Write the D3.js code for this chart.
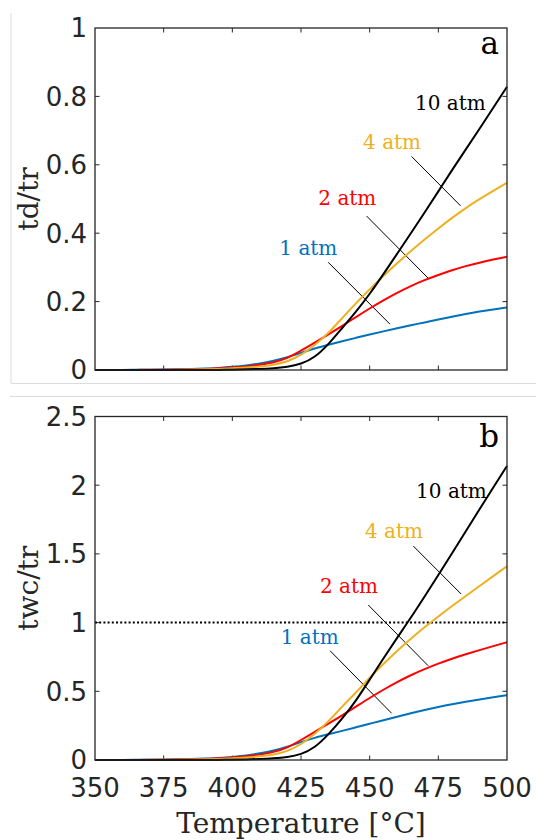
<!doctype html>
<html lang="en">
<head>
<meta charset="utf-8">
<title>td/tr and twc/tr vs temperature</title>
<script src="https://cdn.jsdelivr.net/npm/d3@7/dist/d3.min.js"></script>
<style>
  body { margin: 0; background: #fff; }
  svg text { fill: #262626; }
</style>
</head>
<body>
<svg id="chart" width="536" height="840"></svg>
<script>
// temperatures [°C]
var temps = [350,355,360,365,370,375,380,385,390,395,400,405,410,415,420,425,
             430,435,440,445,450,455,460,465,470,475,480,485,490,495,500];

// panel a : td/tr
var td1atm  = [0,0,0,0.001,0.001,0.001,0.002,0.003,0.004,0.006,0.009,0.013,0.019,0.027,0.037,0.050,
               0.063,0.074,0.084,0.094,0.104,0.113,0.122,0.131,0.139,0.148,0.156,0.164,0.171,0.177,0.183];
var td2atm  = [0,0,0,0,0.001,0.001,0.001,0.002,0.003,0.005,0.007,0.010,0.015,0.022,0.034,0.056,
               0.080,0.104,0.129,0.155,0.180,0.204,0.226,0.246,0.263,0.278,0.292,0.304,0.314,0.323,0.331];
var td4atm  = [0,0,0,0,0,0,0.001,0.001,0.002,0.003,0.005,0.007,0.010,0.015,0.024,0.043,
               0.072,0.108,0.152,0.195,0.236,0.275,0.312,0.348,0.382,0.414,0.445,0.474,0.500,0.524,0.547];
var td10atm = [0,0,0,0,0,0,0,0,0,0,0.001,0.002,0.003,0.005,0.009,0.017,
               0.036,0.075,0.123,0.170,0.222,0.280,0.340,0.400,0.460,0.522,0.585,0.645,0.705,0.767,0.828];

// panel b : twc/tr
var twc1atm  = [0,0,0.001,0.001,0.002,0.003,0.005,0.007,0.010,0.015,0.022,0.033,0.048,0.067,0.095,0.131,
                0.162,0.187,0.212,0.238,0.264,0.290,0.315,0.340,0.364,0.386,0.406,0.424,0.441,0.457,0.472];
var twc2atm  = [0,0,0,0.001,0.001,0.002,0.003,0.005,0.008,0.012,0.018,0.026,0.038,0.057,0.088,0.145,
                0.205,0.265,0.325,0.388,0.452,0.512,0.568,0.618,0.662,0.702,0.738,0.770,0.800,0.829,0.857];
var twc4atm  = [0,0,0,0,0.001,0.001,0.002,0.003,0.005,0.008,0.012,0.018,0.026,0.038,0.062,0.112,
                0.188,0.280,0.390,0.490,0.600,0.700,0.795,0.884,0.966,1.045,1.121,1.194,1.266,1.338,1.410];
var twc10atm = [0,0,0,0,0,0,0,0,0,0,0.002,0.004,0.007,0.012,0.020,0.040,
                0.088,0.185,0.300,0.430,0.585,0.740,0.890,1.035,1.190,1.345,1.505,1.665,1.825,1.983,2.140];

var pressures = ["1 atm", "2 atm", "4 atm", "10 atm"];
var xTicks  = [350, 375, 400, 425, 450, 475, 500];
var yTicksA = [0, 0.2, 0.4, 0.6, 0.8, 1];
var yTicksB = [0, 0.5, 1, 1.5, 2, 2.5];

// label anchors (temperature, value) and leader lines, per pressure
var labelsA  = [[417.1,0.336],[431.3,0.482],[447.6,0.646],[466.5,0.760]];
var leadersA = [[434.9,0.315,457.4,0.134],[448.9,0.450,471.6,0.266],[465.3,0.624,483.1,0.480],null];
var labelsB  = [[417.6,0.844],[431.9,1.215],[448.3,1.616],[466.9,1.907]];
var leadersB = [[435.6,0.795,458.0,0.340],[449.5,1.128,471.3,0.686],[465.9,1.557,483.3,1.208],null];

var colors = ["#0072BD", "#FF0000", "#EDB120", "#000000"];

var svg = d3.select("#chart");
var left = 95, right = 507;
var serif = "'DejaVu Serif', serif";
var sans = "'DejaVu Sans', sans-serif";

// faint frame from the figure composite
svg.append("path")
    .attr("d", "M11,13V383.5H536M10,396.5H536")
    .attr("fill", "none").attr("stroke", "#dcdcdc").attr("stroke-width", 1);

var x = d3.scaleLinear().domain([350, 500]).range([left, right]);

var panels = [
  { top: 28, bottom: 370, ymax: 1, ticks: yTicksA, series: [td1atm, td2atm, td4atm, td10atm],
    ylabel: "td/tr", tag: "a", tagY: 53.5, labels: labelsA, leaders: leadersA, dotted: false },
  { top: 416.5, bottom: 760, ymax: 2.5, ticks: yTicksB, series: [twc1atm, twc2atm, twc4atm, twc10atm],
    ylabel: "twc/tr", tag: "b", tagY: 447, labels: labelsB, leaders: leadersB, dotted: true }
];

panels.forEach(function(p, pi) {
  var y = d3.scaleLinear().domain([0, p.ymax]).range([p.bottom, p.top]);
  var g = svg.append("g");

  // y tick labels
  g.selectAll(".ytl").data(p.ticks).enter().append("text")
      .attr("x", left - 8).attr("y", function(d) { return y(d); })
      .attr("dy", "0.36em")
      .attr("text-anchor", "end")
      .style("font-family", sans).style("font-size", "26px")
      .text(function(d) { return String(d); });

  // ticks, inward, on all four sides
  var tl = 4.5;
  var tk = g.append("g").attr("stroke", "#262626").attr("stroke-width", 1);
  xTicks.slice(1, -1).forEach(function(t) {
    tk.append("line").attr("x1", x(t)).attr("x2", x(t)).attr("y1", p.bottom).attr("y2", p.bottom - tl);
    tk.append("line").attr("x1", x(t)).attr("x2", x(t)).attr("y1", p.top).attr("y2", p.top + tl);
  });
  p.ticks.slice(1, -1).forEach(function(v) {
    tk.append("line").attr("x1", left).attr("x2", left + tl).attr("y1", y(v)).attr("y2", y(v));
    tk.append("line").attr("x1", right).attr("x2", right - tl).attr("y1", y(v)).attr("y2", y(v));
  });

  // dotted reference line at 1
  if (p.dotted) {
    g.append("line")
        .attr("x1", left).attr("x2", right).attr("y1", y(1)).attr("y2", y(1))
        .attr("stroke", "#000").attr("stroke-width", 2).attr("stroke-dasharray", "2,2.2");
  }

  // leader lines
  p.leaders.forEach(function(l) {
    if (!l) return;
    g.append("line")
        .attr("x1", x(l[0])).attr("y1", y(l[1])).attr("x2", x(l[2])).attr("y2", y(l[3]))
        .attr("stroke", "#000").attr("stroke-width", 1);
  });

  // curves
  var line = d3.line()
      .x(function(d, i) { return x(temps[i]); })
      .y(function(d) { return y(d); })
      .curve(d3.curveBasis);
  p.series.forEach(function(s, i) {
    g.append("path").datum(s)
        .attr("d", line)
        .attr("fill", "none")
        .attr("stroke", colors[i])
        .attr("stroke-width", 2)
        .attr("stroke-linejoin", "round");
  });

  // pressure labels
  p.labels.forEach(function(l, i) {
    g.append("text")
        .attr("x", x(l[0])).attr("y", y(l[1]))
        .style("font-family", serif).style("font-size", "20px")
        .style("fill", colors[i])
        .text(pressures[i]);
  });

  // frame
  g.append("rect")
      .attr("x", left).attr("y", p.top)
      .attr("width", right - left).attr("height", p.bottom - p.top)
      .attr("fill", "none").attr("stroke", "#262626").attr("stroke-width", 1.3);

  // panel tag
  g.append("text")
      .attr("x", right - 8).attr("y", p.tagY)
      .attr("text-anchor", "end")
      .style("font-family", serif).style("font-size", "31px")
      .style("fill", "#000")
      .text(p.tag);

  // y axis label
  g.append("text")
      .attr("transform", "translate(38," + ((p.top + p.bottom) / 2) + ") rotate(-90)")
      .attr("text-anchor", "middle")
      .style("font-family", serif).style("font-size", "28px")
      .text(p.ylabel);

  // x tick labels only under the lower panel
  if (pi === 1) {
    g.selectAll(".xtl").data(xTicks).enter().append("text")
        .attr("x", function(d) { return x(d); }).attr("y", 797)
        .attr("text-anchor", "middle")
        .style("font-family", sans).style("font-size", "26px")
        .text(function(d) { return d; });
  }
});

svg.append("text")
    .attr("x", (left + right) / 2).attr("y", 833)
    .attr("text-anchor", "middle")
    .style("font-family", serif).style("font-size", "28px")
    .text("Temperature [°C]");
</script>
</body>
</html>
